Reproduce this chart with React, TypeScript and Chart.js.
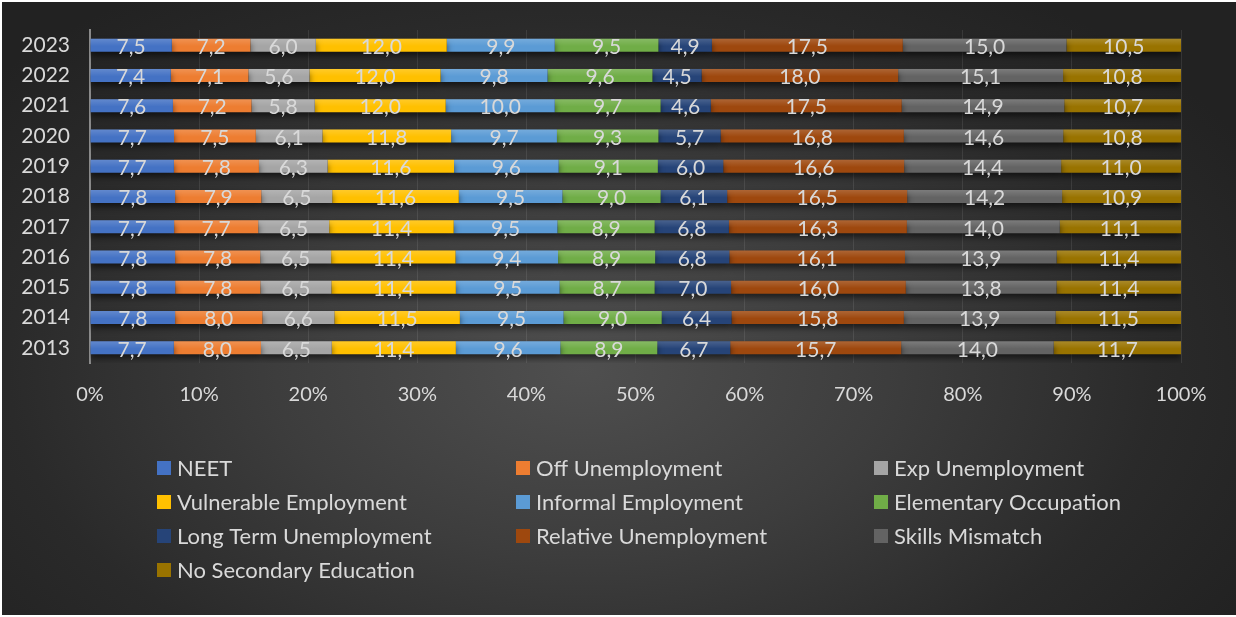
import React, { useEffect, useRef } from "react";
import { Chart, registerables } from "chart.js";

Chart.register(...registerables);

// Years, top row first
const years = ["2023", "2022", "2021", "2020", "2019", "2018", "2017", "2016", "2015", "2014", "2013"];

const neet = [7.5, 7.4, 7.6, 7.7, 7.7, 7.8, 7.7, 7.8, 7.8, 7.8, 7.7];
const offUnemployment = [7.2, 7.1, 7.2, 7.5, 7.8, 7.9, 7.7, 7.8, 7.8, 8.0, 8.0];
const expUnemployment = [6.0, 5.6, 5.8, 6.1, 6.3, 6.5, 6.5, 6.5, 6.5, 6.6, 6.5];
const vulnerableEmployment = [12.0, 12.0, 12.0, 11.8, 11.6, 11.6, 11.4, 11.4, 11.4, 11.5, 11.4];
const informalEmployment = [9.9, 9.8, 10.0, 9.7, 9.6, 9.5, 9.5, 9.4, 9.5, 9.5, 9.6];
const elementaryOccupation = [9.5, 9.6, 9.7, 9.3, 9.1, 9.0, 8.9, 8.9, 8.7, 9.0, 8.9];
const longTermUnemployment = [4.9, 4.5, 4.6, 5.7, 6.0, 6.1, 6.8, 6.8, 7.0, 6.4, 6.7];
const relativeUnemployment = [17.5, 18.0, 17.5, 16.8, 16.6, 16.5, 16.3, 16.1, 16.0, 15.8, 15.7];
const skillsMismatch = [15.0, 15.1, 14.9, 14.6, 14.4, 14.2, 14.0, 13.9, 13.8, 13.9, 14.0];
const noSecondaryEducation = [10.5, 10.8, 10.7, 10.8, 11.0, 10.9, 11.1, 11.4, 11.4, 11.5, 11.7];

const seriesNames = [
  "NEET",
  "Off Unemployment",
  "Exp Unemployment",
  "Vulnerable Employment",
  "Informal Employment",
  "Elementary Occupation",
  "Long Term Unemployment",
  "Relative Unemployment",
  "Skills Mismatch",
  "No Secondary Education",
];

const seriesValues = [
  neet,
  offUnemployment,
  expUnemployment,
  vulnerableEmployment,
  informalEmployment,
  elementaryOccupation,
  longTermUnemployment,
  relativeUnemployment,
  skillsMismatch,
  noSecondaryEducation,
];

const seriesColors = [
  "#4472C4",
  "#ED7D31",
  "#A5A5A5",
  "#FFC000",
  "#5B9BD5",
  "#70AD47",
  "#264478",
  "#9E480E",
  "#636363",
  "#997300",
];

const xTickValues = [0, 10, 20, 30, 40, 50, 60, 70, 80, 90, 100];

const FONT = "Lato, 'Noto Sans', sans-serif";
const TEXT = "#d9d9d9";

const fmt = (v: number) => v.toFixed(1).replace(".", ",");

export default function App() {
  const canvasRef = useRef<HTMLCanvasElement | null>(null);

  useEffect(() => {
    const canvas = canvasRef.current;
    if (!canvas) return;

    // each row is shown as a share of its own total (100% stacked)
    const totals = years.map((_, i) => seriesValues.reduce((s, arr) => s + arr[i], 0));

    const datasets = seriesNames.map((name, k) => ({
      label: name,
      data: seriesValues[k].map((v, i) => (v / totals[i]) * 100),
      rawValues: seriesValues[k],
      backgroundColor: seriesColors[k],
      borderWidth: 0,
      barPercentage: 0.43,
      categoryPercentage: 1,
    }));

    const decorPlugin = {
      id: "decor",
      beforeDatasetsDraw(chart: any) {
        const ctx = chart.ctx;
        ctx.save();
        ctx.shadowColor = "rgba(0,0,0,0.55)";
        ctx.shadowBlur = 6;
        ctx.shadowOffsetX = 0;
        ctx.shadowOffsetY = 4;
      },
      afterDatasetsDraw(chart: any) {
        const ctx = chart.ctx;
        ctx.restore();

        // soft highlight on the upper half of every segment
        ctx.save();
        chart.data.datasets.forEach((_ds: any, di: number) => {
          const meta = chart.getDatasetMeta(di);
          meta.data.forEach((bar: any) => {
            const h = bar.height;
            const top = bar.y - h / 2;
            const g = ctx.createLinearGradient(0, top, 0, bar.y + 1);
            g.addColorStop(0, "rgba(255,255,255,0.16)");
            g.addColorStop(1, "rgba(255,255,255,0)");
            ctx.fillStyle = g;
            const left = Math.min(bar.x, bar.base);
            ctx.fillRect(left, top, Math.abs(bar.x - bar.base), h / 2 + 1);
          });
        });
        ctx.restore();

        // value labels centred in each segment
        ctx.save();
        ctx.font = `21px ${FONT}`;
        ctx.fillStyle = TEXT;
        ctx.textAlign = "center";
        ctx.textBaseline = "middle";
        chart.data.datasets.forEach((ds: any, di: number) => {
          const meta = chart.getDatasetMeta(di);
          meta.data.forEach((bar: any, i: number) => {
            const cx = (bar.x + bar.base) / 2;
            ctx.fillText(fmt(ds.rawValues[i]), cx, bar.y + 2);
          });
        });
        ctx.restore();
      },
      afterDraw(chart: any) {
        // three-column legend under the axis
        const ctx = chart.ctx;
        const colX = [155, 514, 872];
        const rowY = [466, 500, 534, 568];
        ctx.save();
        ctx.font = `22px ${FONT}`;
        ctx.textBaseline = "middle";
        ctx.textAlign = "left";
        chart.data.datasets.forEach((ds: any, k: number) => {
          const x = colX[k % 3];
          const y = rowY[Math.floor(k / 3)];
          ctx.fillStyle = ds.backgroundColor;
          ctx.fillRect(x, y - 7, 14, 14);
          ctx.fillStyle = TEXT;
          ctx.fillText(ds.label, x + 20, y + 1);
        });
        ctx.restore();
      },
    };

    const chart = new Chart(canvas, {
      type: "bar",
      data: { labels: years, datasets },
      plugins: [decorPlugin],
      options: {
        indexAxis: "y",
        responsive: false,
        animation: false,
        devicePixelRatio: 1,
        layout: { padding: { top: 28, right: 55, left: 0, bottom: 0 } },
        plugins: {
          legend: { display: false },
          tooltip: { enabled: false },
          title: { display: false },
        },
        scales: {
          x: {
            stacked: true,
            min: 0,
            max: 100,
            afterFit: (scale: any) => {
              scale.height = 252;
            },
            afterBuildTicks: (scale: any) => {
              scale.ticks = xTickValues.map((v) => ({ value: v }));
            },
            ticks: {
              color: TEXT,
              font: { family: FONT, size: 20 },
              padding: 20,
              callback: (v: any) => `${v}%`,
            },
            grid: {
              color: "rgba(255,255,255,0.09)",
              lineWidth: 1,
              drawTicks: false,
            },
            border: { display: false },
          },
          y: {
            stacked: true,
            afterFit: (scale: any) => {
              scale.width = 88;
              scale.paddingTop = 0;
              scale.paddingBottom = 0;
            },
            ticks: {
              color: TEXT,
              font: { family: FONT, size: 21 },
              padding: 20,
            },
            grid: { display: false, drawTicks: false },
            border: { display: true, color: "#8a8a8a", width: 2 },
          },
        },
      } as any,
    });

    return () => chart.destroy();
  }, []);

  return (
    <div
      style={{
        position: "fixed",
        left: 0,
        top: 0,
        width: 1236,
        height: 617,
        background: "#ffffff",
      }}
    >
      <div
        style={{
          position: "absolute",
          left: 2,
          top: 2,
          width: 1234,
          height: 613,
          background:
            "radial-gradient(ellipse 62% 75% at 47% 60%, #4f4f4f 0%, #3d3d3d 40%, #2a2a2a 75%, #222222 100%)",
        }}
      >
        <canvas ref={canvasRef} width={1234} height={613} />
      </div>
    </div>
  );
}
